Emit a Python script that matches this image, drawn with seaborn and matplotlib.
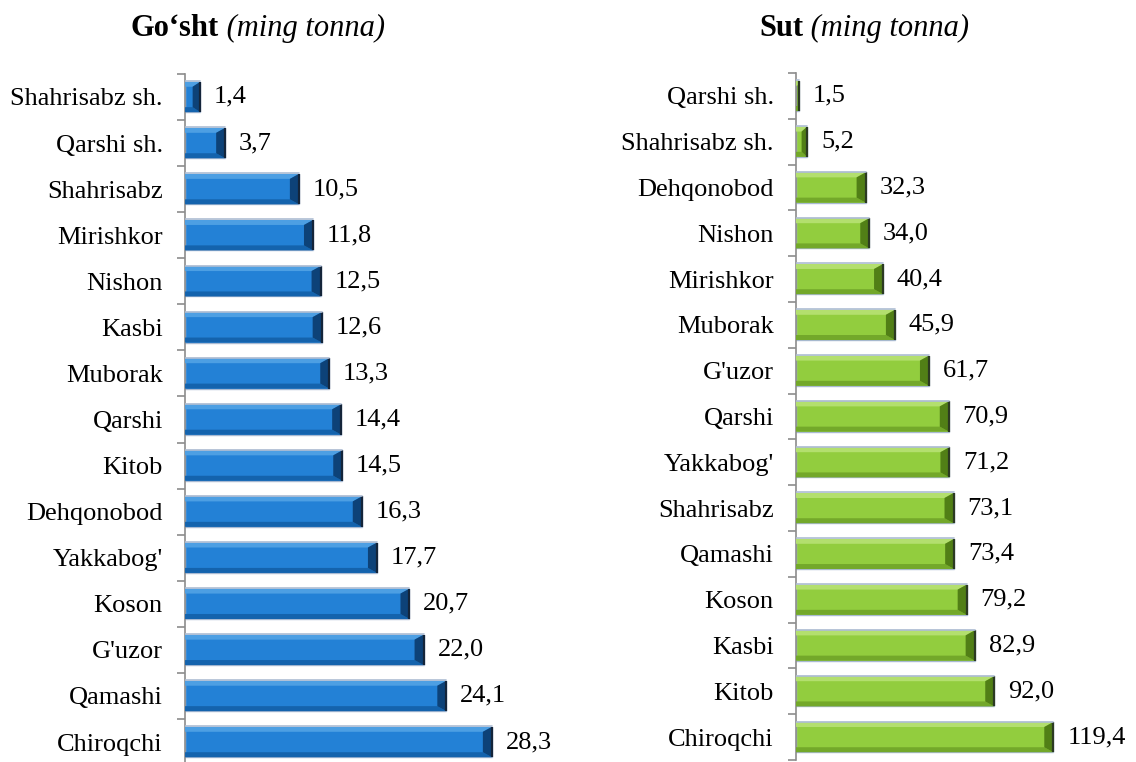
import matplotlib
matplotlib.use("Agg")
import matplotlib.pyplot as plt
from matplotlib.patches import Polygon
from matplotlib.offsetbox import TextArea, HPacker, AnchoredOffsetbox
import seaborn as sns
import pandas as pd
import numpy as np

# Data (top to bottom)
meat_regions = ["Shahrisabz sh.", "Qarshi sh.", "Shahrisabz", "Mirishkor", "Nishon",
                "Kasbi", "Muborak", "Qarshi", "Kitob", "Dehqonobod",
                "Yakkabog'", "Koson", "G'uzor", "Qamashi", "Chiroqchi"]
meat_values = [1.4, 3.7, 10.5, 11.8, 12.5, 12.6, 13.3, 14.4, 14.5, 16.3,
               17.7, 20.7, 22.0, 24.1, 28.3]

milk_regions = ["Qarshi sh.", "Shahrisabz sh.", "Dehqonobod", "Nishon", "Mirishkor",
                "Muborak", "G'uzor", "Qarshi", "Yakkabog'", "Shahrisabz",
                "Qamashi", "Koson", "Kasbi", "Kitob", "Chiroqchi"]
milk_values = [1.5, 5.2, 32.3, 34.0, 40.4, 45.9, 61.7, 70.9, 71.2, 73.1,
               73.4, 79.2, 82.9, 92.0, 119.4]

sns.set_style("white")
plt.rcParams['font.family'] = ['Liberation Serif', 'DejaVu Serif']
plt.rcParams['text.color'] = 'black'
plt.rcParams['ytick.labelcolor'] = 'black'

BLUE = dict(face="#2381d6", top="#4d9fe3", bottom="#1463ad", end="#0d4278", line="#14253a")
GREEN = dict(face="#92cd3e", top="#b3df6e", bottom="#73a82a", end="#517f16", line="#2c3a22")

fig = plt.figure(figsize=(11.36, 7.62), dpi=100)
ax1 = fig.add_axes([0.1629, -0.004, 0.2863, 0.907])
ax2 = fig.add_axes([0.7007, 0.0026, 0.2466, 0.9016])


def bevel(ax, pal):
    # simple bevel drawn over every bar, built from the bar's own extents
    fig.canvas.draw()
    inv = ax.transData.inverted()
    for p in ax.patches:
        (L, B), (R, T) = ax.transData.transform(
            [(p.get_x(), p.get_y() + p.get_height()), (p.get_x() + p.get_width(), p.get_y())])
        dx = min(9, (R - L) / 2)
        dy = 5
        shapes = [
            ([(L, T), (R, T), (R - dx, T - dy), (L, T - dy)], pal["top"]),
            ([(L, B), (R, B), (R - dx, B + dy), (L, B + dy)], pal["bottom"]),
            ([(R, T), (R, B), (R - dx, B + dy), (R - dx, T - dy)], pal["end"]),
        ]
        for pts, c in shapes:
            ax.add_patch(Polygon(inv.transform(pts), closed=True, facecolor=c,
                                 edgecolor="none", zorder=3))
        edge = inv.transform([(R, B), (R, T)])
        ax.plot(edge[:, 0], edge[:, 1], color=pal["line"], lw=1.6, zorder=4,
                solid_capstyle="butt")
        top = inv.transform([(L, T + 0.5), (R, T + 0.5)])
        ax.plot(top[:, 0], top[:, 1], color="#aebdd3", lw=1.2, zorder=4)


def panel(ax, regions, values, pal, xmax):
    df = pd.DataFrame({"region": regions, "value": values})
    sns.barplot(data=df, x="value", y="region", orient="h", color=pal["face"],
                saturation=1, width=0.66, edgecolor="#a9bad2", linewidth=1.0, ax=ax)
    ax.set_xlim(0, xmax)
    ax.set_ylim(len(regions) - 0.5, -0.5)
    ax.set_xlabel("")
    ax.set_ylabel("")
    ax.set_xticks([])
    for s in ["top", "right", "bottom"]:
        ax.spines[s].set_visible(False)
    ax.spines["left"].set_color("#8c8c8c")
    ax.spines["left"].set_linewidth(1.2)
    ax.set_yticks(np.arange(-0.5, len(regions), 1), minor=True)
    ax.tick_params(axis="y", which="major", left=True, length=0, pad=16, labelsize=19,
                   labelcolor="black")
    ax.tick_params(axis="y", which="minor", left=True, length=6, width=1.2,
                   color="#8c8c8c", direction="out")
    ax.patch.set_alpha(0)
    bevel(ax, pal)
    labels = [f"{v:.1f}".replace(".", ",") for v in values]
    ax.bar_label(ax.containers[0], labels=labels, padding=10, fontsize=19,
                 color="black", clip_on=False)


panel(ax1, meat_regions, meat_values, BLUE, 30)
panel(ax2, milk_regions, milk_values, GREEN, 130)


def title(bold, italic, x, y):
    t1 = TextArea(bold, textprops=dict(fontweight="bold", fontsize=22, color="black",
                                       family="Liberation Serif"))
    t2 = TextArea(" " + italic, textprops=dict(fontstyle="italic", fontsize=22, color="black",
                                               family="Liberation Serif"))
    box = HPacker(children=[t1, t2], align="baseline", pad=0, sep=0)
    ab = AnchoredOffsetbox(loc="center", child=box, frameon=False, pad=0, borderpad=0,
                           bbox_to_anchor=(x, y), bbox_transform=fig.transFigure)
    fig.add_artist(ab)


title("Go\u2018sht", "(ming tonna)", 0.2271, 0.962)
title("Sut", "(ming tonna)", 0.7606, 0.962)

fig.savefig("out.png", dpi=100)
